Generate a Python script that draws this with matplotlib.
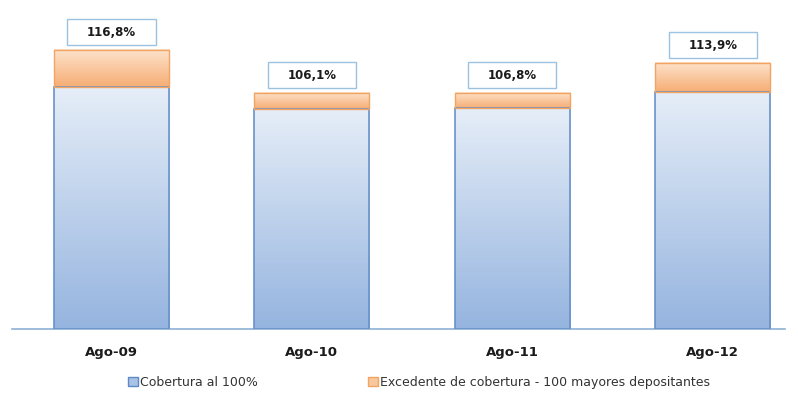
import numpy as np
import matplotlib
matplotlib.use("Agg")
import matplotlib.pyplot as plt
from matplotlib.patches import Rectangle
from matplotlib.colors import LinearSegmentedColormap

# data (arbitrary units)
periods = ["Ago-09", "Ago-10", "Ago-11", "Ago-12"]
cobertura = [242, 220, 221, 237]
excedente = [37, 16, 15, 29]
ratio_labels = ["116,8%", "106,1%", "106,8%", "113,9%"]

blue_cmap = LinearSegmentedColormap.from_list("b", ["#95b4df", "#e6eef8"])
orange_cmap = LinearSegmentedColormap.from_list("o", ["#f6ad74", "#fde3cc"])
grad = np.linspace(0, 1, 256).reshape(-1, 1)

fig = plt.figure(figsize=(7.98, 3.96), dpi=100)
ax = fig.add_axes([0.015, 0.169, 0.969, 0.831])

x = np.arange(len(periods))
w = 0.574

for xi, base, extra, lab in zip(x, cobertura, excedente, ratio_labels):
    left = xi - w / 2
    # blue part with vertical gradient
    ax.imshow(grad, cmap=blue_cmap, extent=(left, left + w, 0, base),
              origin="lower", aspect="auto", zorder=2)
    ax.add_patch(Rectangle((left, 0), w, base, fill=False,
                           edgecolor="#6892c9", lw=1.2, zorder=3))
    # orange part
    ax.imshow(grad, cmap=orange_cmap, extent=(left, left + w, base, base + extra),
              origin="lower", aspect="auto", zorder=2)
    ax.add_patch(Rectangle((left, base), w, extra, fill=False,
                           edgecolor="#f2a463", lw=1.0, zorder=3))
    # label box
    top = base + extra
    bw, bh = 0.44, 26
    ax.add_patch(Rectangle((xi - bw / 2, top + 5), bw, bh, facecolor="white",
                           edgecolor="#9cc2e2", lw=1.0, zorder=3))
    ax.text(xi, top + 5 + bh / 2, lab, ha="center", va="center",
            fontsize=8.5, fontweight="bold", color="#1a1a1a", zorder=4)

ax.set_xlim(-0.497, 3.362)
ax.set_ylim(0, 329)
ax.set_xticks(x)
ax.set_xticklabels(periods, fontsize=9.5, fontweight="bold", color="#1a1a1a")
ax.tick_params(axis="x", length=0, pad=12)
ax.set_yticks([])
for s in ["top", "right", "left"]:
    ax.spines[s].set_visible(False)
ax.spines["bottom"].set_color("#8fb0d6")
ax.spines["bottom"].set_linewidth(1.2)

handles = [Rectangle((0, 0), 1, 1, facecolor="#a9c2e6", edgecolor="#5b8ac6"),
           Rectangle((0, 0), 1, 1, facecolor="#f8c79c", edgecolor="#f2a463")]
fig.legend(handles, ["Cobertura al 100%", "Excedente de cobertura - 100 mayores depositantes"],
           loc="center", bbox_to_anchor=(0.525, 0.035), ncol=2, frameon=False,
           fontsize=9, handlelength=0.8, handleheight=0.8, handletextpad=0.2,
           columnspacing=8.8, labelcolor="#333333")

fig.savefig("out.png", dpi=100)
